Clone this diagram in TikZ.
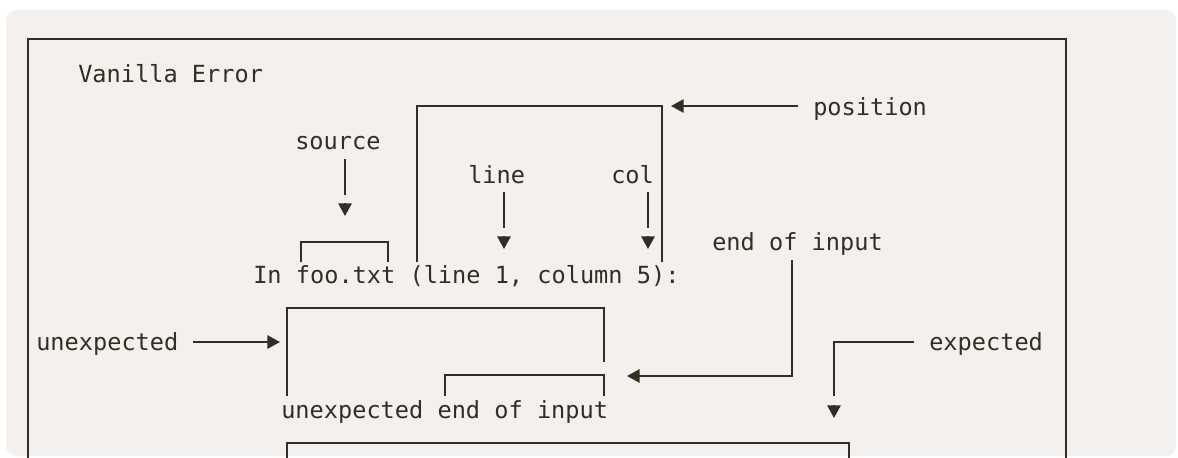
\documentclass[tikz,border=0pt]{standalone}
\usepackage{fontspec}
\setmonofont{DejaVu Sans Mono}
\usepackage{xcolor}
\usepackage{tikz}
\usetikzlibrary{arrows.meta, positioning}

\definecolor{paper}{HTML}{F4F0ED}
\definecolor{ink}{HTML}{352D23}

\tikzset{
  lbl/.style = {anchor=base west, inner sep=0pt, text=ink, font=\ttfamily\fontsize{17.7}{20}\selectfont},
  wire/.style = {draw=ink, line width=1.5pt},
  tip/.style = {wire, -{Triangle[length=9.5pt, width=10pt]}},
}

\begin{document}
\begin{tikzpicture}[x=0.75pt, y=-0.75pt]
    \useasboundingbox (0,0) rectangle (1178,457);
    \fill[paper, rounded corners=8pt] (6,10) rectangle (1176,456);

    % labels
    \node[lbl] (title) at (78, 82) {Vanilla Error};
    \node[lbl] (src) at (295, 149) {source};
    \node[lbl] (lineLbl) at (468, 183) {line};
    \node[lbl] (colLbl) at (611, 183) {col};
    \node[lbl] (pos) at (813, 115) {position};
    \node[lbl] (eoi) at (712, 250) {end of input};
    \node[lbl] (loc) at (253, 283) {In foo.txt (line 1, column 5):};
    \node[lbl] (unexp) at (36, 350) {unexpected};
    \node[lbl] (exp) at (929, 350) {expected};
    \node[lbl] (msg) at (281, 418) {unexpected end of input};

    % outer frame
    \draw[wire] (28,470) -- (28,39) -- (1066,39) -- (1066,470);

    % brackets
    \draw[wire] (301,262) -- (301,242) -- (388,242) -- (388,262);
    \draw[wire] (417,262) -- (417,106) -- (662,106) -- (662,262);
    \draw[wire] (287,396) -- (287,308) -- (604,308) -- (604,362);
    \draw[wire] (445,396) -- (445,375) -- (604,375) -- (604,396);
    \draw[wire] (287,470) -- (287,443) -- (849,443) -- (849,470);

    % arrow ends
    \coordinate (srcTip) at (345,216);
    \coordinate (lineTip) at (504,249);
    \coordinate (colTip) at (648,249);
    \coordinate (posTip) at (671,106);
    \coordinate (eoiTip) at (627,376);
    \coordinate (unexpTip) at (280,342);
    \coordinate (expTip) at (834,418);

    % source / line / col
    \draw[wire] (345,159) -- (345,195);
    \draw[tip] ([yshift=9.5pt]srcTip) -- (srcTip);
    \draw[wire] (504,192) -- (504,228);
    \draw[tip] ([yshift=9.5pt]lineTip) -- (lineTip);
    \draw[wire] (648,192) -- (648,228);
    \draw[tip] ([yshift=9.5pt]colTip) -- (colTip);

    % position
    \draw[tip] (798,106) -- (posTip);

    % end of input
    \draw[tip] (792,260) -- (792,376) -- (eoiTip);

    % unexpected
    \draw[tip] (193,342) -- (unexpTip);

    % expected
    \draw[wire] (914,342) -- (834,342) -- (834,396);
    \draw[tip] ([yshift=9.5pt]expTip) -- (expTip);
\end{tikzpicture}
\end{document}
